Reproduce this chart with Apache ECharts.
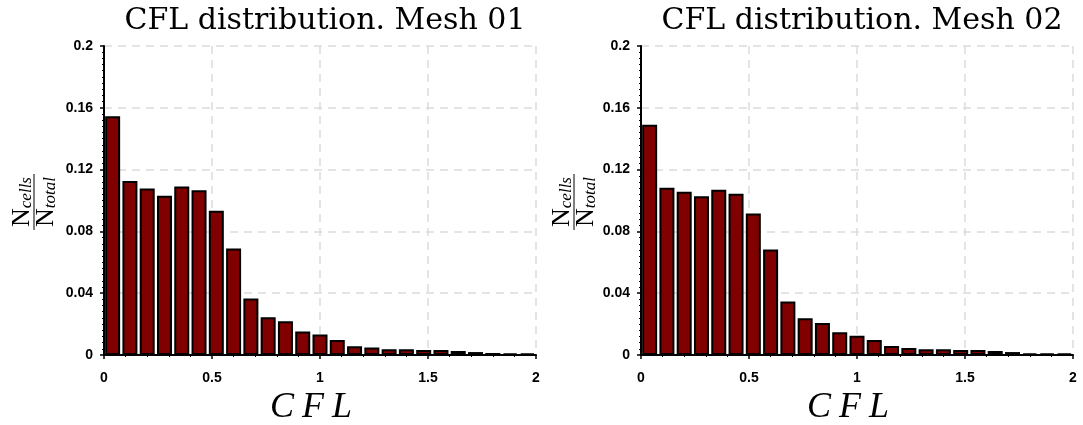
<!DOCTYPE html>
<html><head><meta charset="utf-8">
<script src="https://cdn.jsdelivr.net/npm/echarts@6/dist/echarts.min.js"></script>
<style>html,body{margin:0;padding:0;background:#fff}#c{width:1083px;height:425px}</style>
</head><body><div id="c"></div><script>
const titles = ['CFL distribution. Mesh 01', 'CFL distribution. Mesh 02'];
const cflBins = [0.04, 0.12, 0.20, 0.28, 0.36, 0.44, 0.52, 0.60, 0.68, 0.76, 0.84, 0.92, 1.00,
                 1.08, 1.16, 1.24, 1.32, 1.40, 1.48, 1.56, 1.64, 1.72, 1.80, 1.88, 1.96];
const mesh01 = [0.1545, 0.1126, 0.1078, 0.1030, 0.1091, 0.1067, 0.0933, 0.0690, 0.0366, 0.0245,
                0.0219, 0.0152, 0.0132, 0.0097, 0.0056, 0.0048, 0.0037, 0.0037, 0.0032, 0.0032,
                0.0026, 0.0019, 0.0013, 0.0011, 0.0011];
const mesh02 = [0.1490, 0.1082, 0.1056, 0.1028, 0.1069, 0.1043, 0.0916, 0.0683, 0.0346, 0.0238,
                0.0207, 0.0147, 0.0125, 0.0097, 0.0058, 0.0045, 0.0037, 0.0037, 0.0032, 0.0032,
                0.0026, 0.0019, 0.0011, 0.0009, 0.0009];
const yTicks = [0, 0.04, 0.08, 0.12, 0.16, 0.2];
const xTicks = [0, 0.5, 1, 1.5, 2];
const xLabel = ['C', 'F', 'L'];
const yNum = ['N', 'cells'];
const yDen = ['N', 'total'];

const chart = echarts.init(document.getElementById('c'), null, {renderer: 'canvas'});
const grids = [
  {left: 104, top: 46, width: 432, height: 309, outerBoundsMode: 'none', containLabel: false},
  {left: 641, top: 46, width: 432, height: 309, outerBoundsMode: 'none', containLabel: false}
];
const serif = '"Liberation Serif", "DejaVu Serif", serif';
const titleSerif = '"DejaVu Serif", "Liberation Serif", serif';
const sans = '"Liberation Sans", Arial, sans-serif';
const series = [mesh01, mesh02];

function xAxis(i) {
  return {
    type: 'value', gridIndex: i, min: 0, max: 2, interval: 0.5,
    axisLine: {show: true, lineStyle: {color: '#000', width: 2}},
    axisTick: {show: true, length: 4, lineStyle: {color: '#000', width: 1.5}},
    minorTick: {show: true, splitNumber: 5, length: 2, lineStyle: {color: '#000', width: 1}},
    axisLabel: {color: '#000', fontFamily: sans, fontWeight: 'bold', fontSize: 14, margin: 16,
      formatter: v => xTicks.includes(v) ? String(v) : ''},
    splitLine: {show: true, lineStyle: {color: '#dcdcdc', width: 1.5, type: [8, 6]}},
    name: xLabel.map(c => '{l|' + c + '}').join(''), nameLocation: 'middle', nameGap: 29,
    nameTextStyle: {fontFamily: serif, fontStyle: 'italic', fontSize: 36, color: '#000', padding: [0, 18, 0, 0],
      rich: {l: {fontFamily: serif, fontStyle: 'italic', fontSize: 36, color: '#000', padding: [0, 4, 0, 4]}}}
  };
}
function yAxis(i) {
  return {
    type: 'value', gridIndex: i, min: 0, max: 0.2, interval: 0.04,
    axisLine: {show: true, lineStyle: {color: '#000', width: 2}},
    axisTick: {show: true, length: 4, lineStyle: {color: '#000', width: 1.5}},
    minorTick: {show: true, splitNumber: 10, length: 2, lineStyle: {color: '#000', width: 1}},
    axisLabel: {color: '#000', fontFamily: sans, fontWeight: 'bold', fontSize: 14, margin: 11,
      formatter: v => { const t = yTicks.find(k => Math.abs(k - v) < 1e-9); return t === undefined ? '' : String(t); }},
    splitLine: {show: true, lineStyle: {color: '#dcdcdc', width: 1.5, type: [8, 6]}}
  };
}
function fraction(cx, cy) {
  const rich = {
    n: {fontFamily: serif, fontSize: 26, lineHeight: 26, padding: [0, 0, 4, 0], verticalAlign: 'top', fill: '#000'},
    s: {fontFamily: serif, fontStyle: 'italic', fontSize: 17, lineHeight: 17, verticalAlign: 'bottom', fill: '#000'}
  };
  return {
    type: 'group', x: cx, y: cy, rotation: Math.PI / 2,
    children: [
      {type: 'text', x: 0, y: -12, style: {text: '{n|' + yNum[0] + '}{s|' + yNum[1] + '}', rich: rich, align: 'center', verticalAlign: 'middle'}},
      {type: 'line', shape: {x1: -28, y1: 0, x2: 28, y2: 0}, style: {stroke: '#000', lineWidth: 1}},
      {type: 'text', x: 0, y: 12, style: {text: '{n|' + yDen[0] + '}{s|' + yDen[1] + '}', rich: rich, align: 'center', verticalAlign: 'middle'}}
    ]
  };
}

chart.setOption({
  backgroundColor: '#fff',
  animation: false,
  title: titles.map((t, i) => ({
    text: t, left: grids[i].left + grids[i].width / 2, top: 1, textAlign: 'center',
    textStyle: {fontFamily: titleSerif, fontWeight: 'normal', fontSize: 30, color: '#000'}
  })),
  grid: grids,
  xAxis: [xAxis(0), xAxis(1)],
  yAxis: [yAxis(0), yAxis(1)],
  series: series.map((vals, i) => ({
    type: 'bar', xAxisIndex: i, yAxisIndex: i, barWidth: 15,
    data: cflBins.map((x, k) => [x, vals[k]]),
    itemStyle: {color: '#800000', borderColor: '#000', borderWidth: 2}
  })),
  graphic: [fraction(34, 202), fraction(574, 202)]
});
</script></body></html>
